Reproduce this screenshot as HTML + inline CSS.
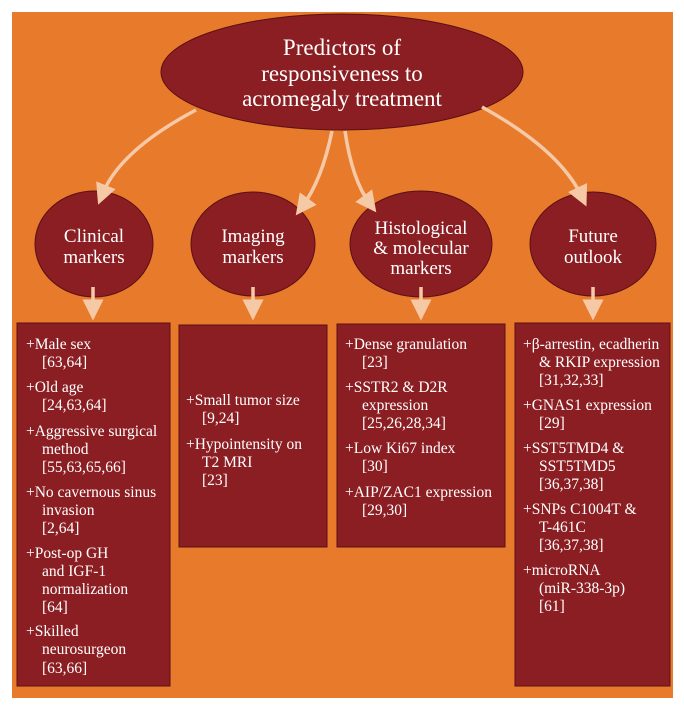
<!DOCTYPE html>
<html><head><meta charset="utf-8"><style>
html,body{margin:0;padding:0;background:#fff;width:684px;height:711px;overflow:hidden}
svg{display:block}
text{font-family:"Liberation Serif",serif;fill:#fff}
.t{font-size:15.5px}
.s{font-size:19px}
.m{font-size:23px}
</style></head><body>
<svg width="684" height="711" viewBox="0 0 684 711">
<defs>
<marker id="a" markerWidth="6" markerHeight="6" refX="3" refY="3" orient="auto" markerUnits="strokeWidth">
<path d="M0,0 L6,3 L0,6 z" fill="#f6c9a6"/></marker>
</defs>
<rect x="12" y="12" width="661" height="686" fill="#e87a2c"/>
<g fill="#8b1e22" stroke="#5a1012" stroke-width="1">
<ellipse cx="342" cy="72" rx="181" ry="58"/>
<ellipse cx="94" cy="244" rx="59" ry="53"/>
<ellipse cx="253" cy="244" rx="62" ry="52"/>
<ellipse cx="421" cy="244" rx="71" ry="53"/>
<ellipse cx="593" cy="244" rx="63" ry="52"/>
<rect x="17" y="323" width="153" height="363"/>
<rect x="179" y="325" width="148" height="222"/>
<rect x="337" y="324" width="168" height="223"/>
<rect x="515" y="323" width="155" height="363"/>
</g>
<g fill="none" stroke="#f6c9a6" stroke-width="3.5" marker-end="url(#a)">
<path d="M196,110 Q120,150 102,195"/>
<path d="M332,131 Q322,180 302,207"/>
<path d="M345,131 Q352,180 370,204"/>
<path d="M482,107 Q560,150 582,197"/>
<path d="M93,287 L93,310"/>
<path d="M253,287 L253,310"/>
<path d="M421,287 L421,310"/>
<path d="M593,287 L593,310"/>
</g>
<g text-anchor="middle">
<text class="m" x="342" y="55">Predictors of</text>
<text class="m" x="342" y="81">responsiveness to</text>
<text class="m" x="342" y="106">acromegaly treatment</text>
<text class="s" x="94" y="242">Clinical</text>
<text class="s" x="94" y="263">markers</text>
<text class="s" x="253" y="242">Imaging</text>
<text class="s" x="253" y="263">markers</text>
<text class="s" x="421" y="234">Histological</text>
<text class="s" x="421" y="254">&amp; molecular</text>
<text class="s" x="421" y="274">markers</text>
<text class="s" x="593" y="242">Future</text>
<text class="s" x="593" y="263">outlook</text>
</g>
<g class="t">
<text class="t" x="26" y="349">+Male sex</text>
<text class="t" x="42" y="367">[63,64]</text>
<text class="t" x="26" y="392">+Old age</text>
<text class="t" x="42" y="410">[24,63,64]</text>
<text class="t" x="26" y="436">+Aggressive surgical</text>
<text class="t" x="42" y="454">method</text>
<text class="t" x="42" y="472">[55,63,65,66]</text>
<text class="t" x="26" y="497">+No cavernous sinus</text>
<text class="t" x="42" y="515">invasion</text>
<text class="t" x="42" y="533">[2,64]</text>
<text class="t" x="26" y="558">+Post-op GH</text>
<text class="t" x="42" y="576">and IGF-1</text>
<text class="t" x="42" y="594">normalization</text>
<text class="t" x="42" y="612">[64]</text>
<text class="t" x="26" y="636">+Skilled</text>
<text class="t" x="42" y="654">neurosurgeon</text>
<text class="t" x="42" y="673">[63,66]</text>

<text class="t" x="186" y="405">+Small tumor size</text>
<text class="t" x="202" y="423">[9,24]</text>
<text class="t" x="186" y="449">+Hypointensity on</text>
<text class="t" x="202" y="467">T2 MRI</text>
<text class="t" x="202" y="485">[23]</text>

<text class="t" x="345" y="349">+Dense granulation</text>
<text class="t" x="362" y="367">[23]</text>
<text class="t" x="345" y="392">+SSTR2 &amp; D2R</text>
<text class="t" x="362" y="410">expression</text>
<text class="t" x="362" y="428">[25,26,28,34]</text>
<text class="t" x="345" y="453">+Low Ki67 index</text>
<text class="t" x="362" y="471">[30]</text>
<text class="t" x="345" y="497">+AIP/ZAC1 expression</text>
<text class="t" x="362" y="515">[29,30]</text>

<text class="t" x="523" y="349">+β-arrestin, ecadherin</text>
<text class="t" x="539" y="367">&amp; RKIP expression</text>
<text class="t" x="539" y="385">[31,32,33]</text>
<text class="t" x="523" y="410">+GNAS1 expression</text>
<text class="t" x="539" y="428">[29]</text>
<text class="t" x="523" y="453">+SST5TMD4 &amp;</text>
<text class="t" x="539" y="471">SST5TMD5</text>
<text class="t" x="539" y="489">[36,37,38]</text>
<text class="t" x="523" y="514">+SNPs C1004T &amp;</text>
<text class="t" x="539" y="532">T-461C</text>
<text class="t" x="539" y="550">[36,37,38]</text>
<text class="t" x="523" y="575">+microRNA</text>
<text class="t" x="539" y="593">(miR-338-3p)</text>
<text class="t" x="539" y="611">[61]</text>
</g>
</svg>
</body></html>
